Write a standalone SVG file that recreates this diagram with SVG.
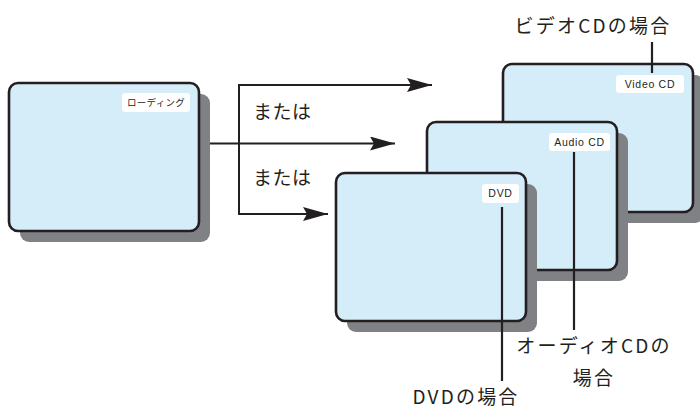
<svg xmlns="http://www.w3.org/2000/svg" width="700" height="410" viewBox="0 0 700 410">
<defs>
<style>
.shadow{fill:#808184;}
.screen{fill:#d5ecf9;stroke:#231f20;stroke-width:2.6;}
.tag{fill:#ffffff;}
.tagtxt{font-family:"Liberation Sans","Noto Sans CJK JP",sans-serif;font-size:10.5px;fill:#231f20;text-anchor:middle;letter-spacing:0.7px;}
.big{font-family:"Noto Sans CJK JP","Noto Sans",sans-serif;font-size:19px;fill:#231f20;letter-spacing:2.2px;}
.line{fill:none;stroke:#231f20;stroke-width:2;}
.lead{fill:none;stroke:#231f20;stroke-width:2.2;}
</style>
<marker id="arr" markerWidth="25" markerHeight="14" refX="25" refY="7" orient="auto" markerUnits="userSpaceOnUse">
<path d="M0,0 L25,7 L0,14 L4,7 Z" fill="#231f20"/>
</marker>
</defs>
<rect width="700" height="410" fill="#ffffff"/>

<g id="loading">
<rect class="shadow" x="20" y="94" width="190" height="148" rx="9"/>
<rect class="screen" x="9" y="83" width="190" height="148" rx="9"/>
<rect class="tag" x="122" y="93" width="68" height="19" rx="3"/>
<text class="tagtxt" x="156" y="106" style="font-family:'Noto Sans CJK JP',sans-serif;font-size:9.5px;letter-spacing:0.3px">ローディング</text>
</g>

<g id="connectors">
<path class="line" d="M210,143.5 H395" marker-end="url(#arr)"/>
<path class="line" d="M432,85 H239 V214 H328" marker-end="url(#arr)"/>
<path class="line" d="M239,85 H432" marker-end="url(#arr)"/>
</g>

<g id="or-labels">
<text class="big" x="253" y="119" style="letter-spacing:0.5px">または</text>
<text class="big" x="253" y="185" style="letter-spacing:0.5px">または</text>
</g>

<g id="video-cd">
<rect class="shadow" x="514" y="75" width="190" height="148" rx="9"/>
<rect class="screen" x="503" y="64" width="190" height="148" rx="9"/>
<rect class="tag" x="616" y="75" width="68" height="18" rx="3"/>
<text class="tagtxt" x="650" y="88">Video CD</text>
</g>

<g id="audio-cd">
<rect class="shadow" x="438" y="133" width="190" height="148" rx="9"/>
<rect class="screen" x="427" y="122" width="190" height="148" rx="9"/>
<rect class="tag" x="549" y="133" width="61" height="18" rx="3"/>
<text class="tagtxt" x="579.5" y="146">Audio CD</text>
</g>

<g id="dvd">
<rect class="shadow" x="347" y="184" width="190" height="148" rx="9"/>
<rect class="screen" x="336" y="173" width="190" height="148" rx="9"/>
<rect class="tag" x="482" y="184" width="37" height="19" rx="3"/>
<text class="tagtxt" x="500.5" y="197">DVD</text>
</g>

<g id="leaders">
<path class="lead" d="M652,42 V73"/>
<path class="lead" d="M574,152 V330"/>
<path class="lead" d="M502,207 V381"/>
</g>

<g id="callouts">
<text class="big" x="593" y="33" text-anchor="middle">ビデオCDの場合</text>
<text class="big" x="594" y="353" text-anchor="middle">オーディオCDの</text>
<text class="big" x="594" y="385" text-anchor="middle">場合</text>
<text class="big" x="466" y="404" text-anchor="middle">DVDの場合</text>
</g>
</svg>
